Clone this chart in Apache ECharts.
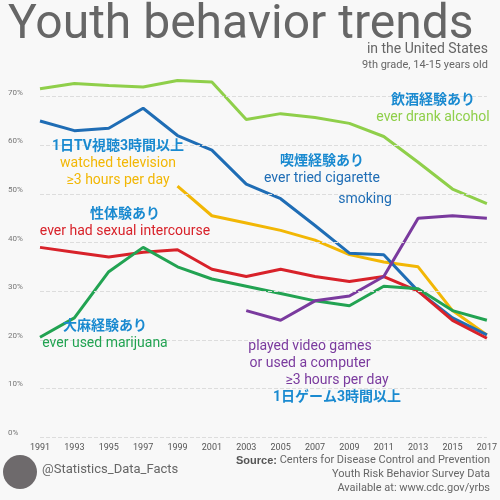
<!DOCTYPE html>
<html><head><meta charset="utf-8">
<script src="https://cdn.jsdelivr.net/npm/echarts@6/dist/echarts.min.js"></script>
<style>html,body{margin:0;background:#f8f8f8}#c{width:500px;height:500px}</style>
</head><body><div id="c"></div>
<script>
const years = ['1991','1993','1995','1997','1999','2001','2003','2005','2007','2009','2011','2013','2015','2017'];
const alcohol = [71.6, 72.7, 72.3, 72, 73.3, 73, 65.3, 66.5, 65.7, 64.5, 61.8, 56.5, 51, 48];
const cigarette = [65, 63, 63.5, 67.6, 62, 59, 52, 49, 43.5, 37.8, 37.5, 30, 24.5, 21];
const television = [null, null, null, null, 51.6, 45.5, 44, 42.5, 40.5, 37.5, 36, 35, 26, 21];
const intercourse = [39, 38, 37, 38, 38.5, 34.5, 33, 34.5, 33, 32, 33, 30, 24, 20.3];
const marijuana = [20.5, 24.5, 34, 39, 35, 32.5, 31, 29.5, 28, 27, 31, 30.5, 26, 24];
const videogames = [null, null, null, null, null, null, 26, 24, 28, 29, 33, 45, 45.5, 45];
const gridLevels = [0, 10, 20, 30, 40, 50, 60, 70];

const chart = echarts.init(document.getElementById('c'));
const F = 'Roboto, "Noto Sans CJK JP", sans-serif';
function line(name, data, color, extra) {
  return Object.assign({ name, type: 'line', data, symbol: 'none', lineStyle: { color, width: 3 }, itemStyle: { color }, z: 3 }, extra || {});
}
const jp = '#1a8ad0';
function txt(x, y, lines) {
  return lines.map((l, i) => ({ type: 'text', x, y: y + i * 17, z: 10, style: { text: l[0], fill: l[1],
    font: (l[1] === jp ? 'bold ' : '') + '14px ' + F, textAlign: 'center' } }));
}
chart.setOption({
  backgroundColor: '#f8f8f8',
  animation: false,
  grid: { left: 40, right: 12, top: 48, bottom: 63 },
  xAxis: { type: 'category', data: years, boundaryGap: false,
    axisLine: { show: false }, axisTick: { show: false },
    axisLabel: { color: '#555', fontSize: 9, fontFamily: F, interval: 0, margin: 6 } },
  yAxis: { type: 'value', min: 0, max: 80, interval: 10, splitLine: { show: false },
    axisLabel: { color: '#777', fontSize: 8, fontFamily: F, inside: true, margin: -32, verticalAlign: 'bottom',
      formatter: v => v === 80 ? '' : v + '%' } },
  series: [
    line('grid', [], '#000', { markLine: { silent: true, symbol: 'none', label: { show: false },
      lineStyle: { color: '#ddd', type: 'dashed', width: 1 }, data: gridLevels.map(v => ({ yAxis: v })) } }),
    line('alcohol', alcohol, '#8fcf4a'),
    line('television', television, '#f2b705'),
    line('cigarette', cigarette, '#1f6db5'),
    line('intercourse', intercourse, '#d8222a'),
    line('marijuana', marijuana, '#22a352'),
    line('videogames', videogames, '#7a3a9e')
  ],
  graphic: [
    { type: 'text', x: 8, y: 2, style: { text: 'Youth behavior trends', fill: '#666', font: '48px ' + F } },
    { type: 'text', right: 12, top: 43, style: { text: 'in the United States', fill: '#666', font: '14px ' + F } },
    { type: 'text', right: 12, top: 60, style: { text: '9th grade, 14-15 years old', fill: '#666', font: '11px ' + F } },
    ...txt(433, 94, [['飲酒経験あり', jp], ['ever drank alcohol', '#8fcf4a']]),
    ...txt(118, 140, [['1日TV視聴3時間以上', jp], ['watched television', '#f2b705'], ['≥3 hours per day', '#f2b705']]),
    ...txt(322, 155, [['喫煙経験あり', jp], ['ever tried cigarette', '#1f6db5']]),
    { type: 'text', x: 365, y: 193, z: 10, style: { text: 'smoking', fill: '#1f6db5', font: '14px ' + F, textAlign: 'center' } },
    ...txt(125, 208, [['性体験あり', jp], ['ever had sexual intercourse', '#d8222a']]),
    ...txt(105, 320, [['大麻経験あり', jp], ['ever used marijuana', '#22a352']]),
    ...txt(310, 340, [['played video games', '#7a3a9e'], ['or used a computer', '#7a3a9e']]),
    ...txt(337, 374, [['≥3 hours per day', '#7a3a9e'], ['1日ゲーム3時間以上', jp]]),
    { type: 'circle', shape: { cx: 20, cy: 472, r: 17 }, style: { fill: '#6e6a6c' } },
    { type: 'text', x: 42, y: 463, style: { text: '@Statistics_Data_Facts', fill: '#666', font: '13px ' + F } },
    { type: 'text', right: 10, top: 455, style: { rich: { b: { fontWeight: 'bold', fill: '#555', fontSize: 11 } }, text: '{b|Source:} Centers for Disease Control and Prevention', fill: '#666', font: '11px ' + F } },
    { type: 'text', right: 10, top: 469, style: { text: 'Youth Risk Behavior Survey Data', fill: '#666', font: '11px ' + F } },
    { type: 'text', right: 10, top: 483, style: { text: 'Available at: www.cdc.gov/yrbs', fill: '#666', font: '11px ' + F } }
  ]
});
</script></body></html>
